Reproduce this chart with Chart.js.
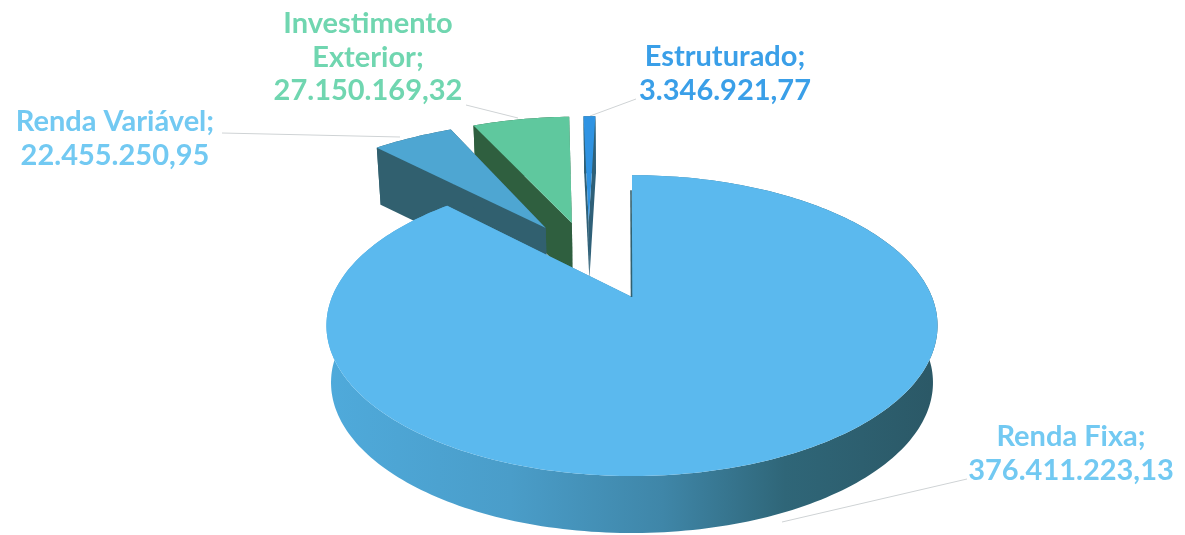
<!DOCTYPE html>
<html>
<head>
<meta charset="utf-8">
<style>html,body{margin:0;padding:0;background:#fff}canvas{display:block}</style>
<script src="https://cdn.jsdelivr.net/npm/chart.js@4"></script>
</head>
<body>
<canvas id="c" width="1185" height="535"></canvas>
<script>
const categories = ['Renda Fixa', 'Renda Variável', 'Investimento Exterior', 'Estruturado'];
const values = [376411223.13, 22455250.95, 27150169.32, 3346921.77];
const valueLabels = ['376.411.223,13', '22.455.250,95', '27.150.169,32', '3.346.921,77'];

const topColors = ['#5bb9ee', '#4ea6d2', '#5fc89e', '#2f93e2'];
const sideColors = [null, '#31606f', '#2f5f3f', '#2f6078'];
const labelColors = ['#72c9f2', '#72c9f2', '#70d6b0', '#3a9fe8'];
// world-space explosion of each slice (across, depth) and its radius
const explode = [[0, 0], [-0.316, -0.523], [-0.222, -0.565], [-0.16, -0.574]];
const radius = [1, 1.06, 1.065, 1.06];
const labelLines = [
  {lines: ['Renda Fixa;', valueLabels[0]], x: 1071, y: 437},
  {lines: ['Renda Variável;', valueLabels[1]], x: 115, y: 122},
  {lines: ['Investimento', 'Exterior;', valueLabels[2]], x: 368, y: 24},
  {lines: ['Estruturado;', valueLabels[3]], x: 725, y: 57}
];
const leaders = [
  [967, 479, 782, 522],
  [222, 133, 400, 137],
  [466, 105, 518, 118],
  [636, 99, 590, 116]
];

const CX = 632, CY = 297, SX = 300, SY = 145, K = 0.19, DEPTH = 57, TAPER = 0.985;
function project(u, v, bottom) {
  const w = 1 - K * v;
  const s = bottom ? TAPER : 1;
  return [CX + SX * s * u / w, CY + SY * v / w + (bottom ? DEPTH : 0)];
}
function arcPoints(start, end, off, r, bottom) {
  const pts = [];
  const n = Math.max(2, Math.ceil((end - start) / 0.02));
  for (let i = 0; i <= n; i++) {
    const a = start + (end - start) * i / n;
    pts.push(project(r * Math.cos(a) + off[0], r * Math.sin(a) + off[1], bottom));
  }
  return pts;
}
function fillPoly(ctx, pts) {
  ctx.beginPath();
  pts.forEach((p, i) => i ? ctx.lineTo(p[0], p[1]) : ctx.moveTo(p[0], p[1]));
  ctx.closePath();
  ctx.fill();
}

const pie3d = {
  id: 'pie3d',
  beforeDatasetsDraw(chart) {
    const ctx = chart.ctx;
    const arcs = chart.getDatasetMeta(0).data;
    ctx.save();
    ctx.lineWidth = 1;
    ctx.strokeStyle = '#cfd3d5';
    leaders.forEach(l => {
      ctx.beginPath(); ctx.moveTo(l[0], l[1]); ctx.lineTo(l[2], l[3]); ctx.stroke();
    });
    const grad = ctx.createLinearGradient(327, 0, 938, 0);
    grad.addColorStop(0, '#4faadb');
    grad.addColorStop(0.3, '#4a9dc9');
    grad.addColorStop(0.55, '#3f86a8');
    grad.addColorStop(0.75, '#2f6678');
    grad.addColorStop(1, '#2b5866');
    // back slices first, the large slice last
    [3, 2, 1, 0].forEach(i => {
      const p = arcs[i].getProps(['startAngle', 'endAngle'], true);
      const off = explode[i], r = radius[i];
      const tArc = arcPoints(p.startAngle, p.endAngle, off, r, false);
      const bArc = arcPoints(p.startAngle, p.endAngle, off, r, true);
      const tApex = project(off[0], off[1], false);
      const bApex = project(off[0], off[1], true);
      ctx.fillStyle = sideColors[i] || grad;
      fillPoly(ctx, tArc.concat(bArc.slice().reverse()));
      fillPoly(ctx, [tApex, tArc[0], bArc[0], bApex]);
      fillPoly(ctx, [tApex, tArc[tArc.length - 1], bArc[bArc.length - 1], bApex]);
      ctx.fillStyle = topColors[i];
      fillPoly(ctx, [tApex].concat(tArc));
      if (i === 0) {
        ctx.strokeStyle = '#31606f';
        ctx.lineWidth = 1.6;
        ctx.beginPath();
        ctx.moveTo(tApex[0] - 1, tArc[0][1] + 15);
        ctx.lineTo(tApex[0] - 0.5, tApex[1]);
        ctx.stroke();
      }
    });
    ctx.textAlign = 'center';
    ctx.textBaseline = 'middle';
    ctx.font = 'bold 29px Lato, sans-serif';
    labelLines.forEach((l, i) => {
      ctx.fillStyle = labelColors[i];
      l.lines.forEach((s, j) => ctx.fillText(s, l.x, l.y + j * 33.5));
    });
    ctx.restore();
    return false;
  }
};

new Chart(document.getElementById('c'), {
  type: 'pie',
  data: {
    labels: categories,
    datasets: [{data: values, backgroundColor: topColors, borderWidth: 0}]
  },
  options: {
    responsive: false,
    animation: false,
    rotation: 0,
    plugins: {legend: {display: false}, tooltip: {enabled: false}, title: {display: false}}
  },
  plugins: [pie3d]
});
</script>
</body>
</html>
